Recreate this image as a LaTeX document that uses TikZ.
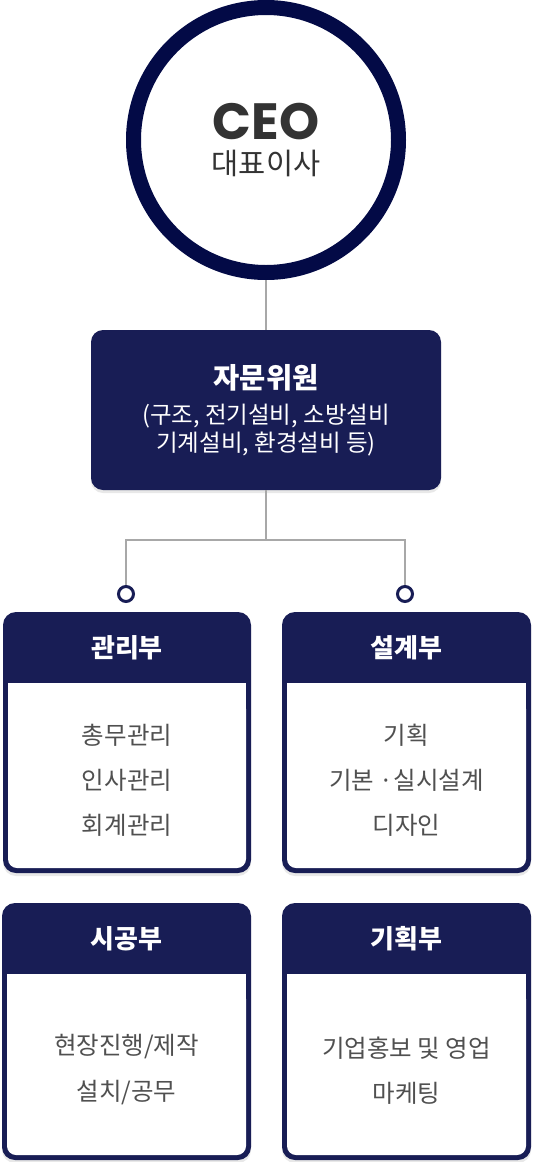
\documentclass[tikz,border=0pt]{standalone}
\usepackage{fontspec}
\newfontfamily\kr{Noto Sans CJK KR}
\newfontfamily\ceofont{Poppins}
\usetikzlibrary{shadows}
\definecolor{navy}{RGB}{24,29,85}
\definecolor{ringnavy}{RGB}{3,10,70}
\definecolor{txtdark}{RGB}{51,51,51}
\definecolor{txtgray}{RGB}{80,80,80}
\definecolor{linegray}{RGB}{168,168,168}
\begin{document}
\begin{tikzpicture}[x=1pt,y=-1pt,
  conn/.style={draw=linegray, line width=1.8pt},
  softshadow/.style={drop shadow={opacity=0.18, shadow xshift=0pt, shadow yshift=-3pt}},
  deptbox/.style={fill=navy, rounded corners=13pt, inner sep=0pt, softshadow},
  headtxt/.style={text=white, inner sep=0pt, font=\kr\bfseries\fontsize{26}{26}\selectfont},
  bodytxt/.style={text=txtgray, inner sep=0pt, font=\kr\fontsize{24.5}{24.5}\selectfont},
  dot/.style={circle, draw=navy, line width=3pt, fill=white, minimum size=15pt, inner sep=0pt}
]
\useasboundingbox (0,0) rectangle (533,1162);

% CEO
\node[circle, draw=ringnavy, line width=15pt, fill=white, minimum size=265pt, inner sep=0pt, softshadow] (ceo) at (266,140) {};
\node[text=txtdark, inner sep=0pt, font=\ceofont\bfseries\fontsize{51}{51}\selectfont] (ceot) at (266,122) {CEO};
\node[text=txtdark, inner sep=0pt, text height=0.72em, text depth=0.08em, font=\kr\fontsize{29.5}{29.5}\selectfont] (ceok) at (266,171) {대표이사};

% advisory
\node[fill=navy, rounded corners=12pt, minimum width=350pt, minimum height=160pt, inner sep=0pt, softshadow] (adv) at (266,410) {};
\node[text=white, inner sep=0pt, font=\kr\bfseries\fontsize{28.5}{28.5}\selectfont] (advt) at (266,378) {자문위원};
\node[text=white, inner sep=0pt, font=\kr\fontsize{23.5}{23.5}\selectfont] (adv1) at (266,416) {(구조, 전기설비, 소방설비};
\node[text=white, inner sep=0pt, font=\kr\fontsize{23.5}{23.5}\selectfont] (adv2) at (266,444) {기계설비, 환경설비 등)};

% connectors
\coordinate (split) at (266,540);
\node[dot] (c1) at (126,594) {};
\node[dot] (c2) at (405,594) {};
\draw[conn] (ceo.south) -- (adv.north);
\draw[conn] (adv.south) -- (split);
\draw[conn] (split) -| (c1.north);
\draw[conn] (split) -| (c2.north);

% row 1 boxes
\node[deptbox, minimum width=248pt, minimum height=261pt] (gwan) at (127,742.5) {};
\fill[white] (8,683) rectangle (246,710);
\fill[white, rounded corners=9pt] (8,700) rectangle (246,868);
\node[headtxt] (gwanh) at (127,648) {관리부};
\node[bodytxt] (g1) at (127,735) {총무관리};
\node[bodytxt] (g2) at (127,780) {인사관리};
\node[bodytxt] (g3) at (127,825) {회계관리};

\node[deptbox, minimum width=249pt, minimum height=261pt] (seol) at (406.5,742.5) {};
\fill[white] (287,683) rectangle (526,710);
\fill[white, rounded corners=9pt] (287,700) rectangle (526,868);
\node[headtxt] (seolh) at (406.5,648) {설계부};
\node[bodytxt] (s1) at (406.5,735) {기획};
\node[bodytxt] (s2) at (406.5,780) {기본 ·실시설계};
\node[bodytxt] (s3) at (406.5,825) {디자인};

% row 2 boxes
\node[deptbox, minimum width=249pt, minimum height=257pt] (sigong) at (126.5,1031.5) {};
\fill[white] (7,974) rectangle (246,1000);
\fill[white, rounded corners=9pt] (7,990) rectangle (246,1155);
\node[headtxt] (sigongh) at (126.5,939) {시공부};
\node[bodytxt] (p1) at (126.5,1047) {현장진행/제작};
\node[bodytxt] (p2) at (126.5,1093) {설치/공무};

\node[deptbox, minimum width=249pt, minimum height=257pt] (gihoek) at (406.5,1031.5) {};
\fill[white] (287,974) rectangle (526,1000);
\fill[white, rounded corners=9pt] (287,990) rectangle (526,1155);
\node[headtxt] (gihoekh) at (406.5,939) {기획부};
\node[bodytxt] (q1) at (406.5,1048) {기업홍보 및 영업};
\node[bodytxt] (q2) at (406.5,1093) {마케팅};
\end{tikzpicture}
\end{document}
